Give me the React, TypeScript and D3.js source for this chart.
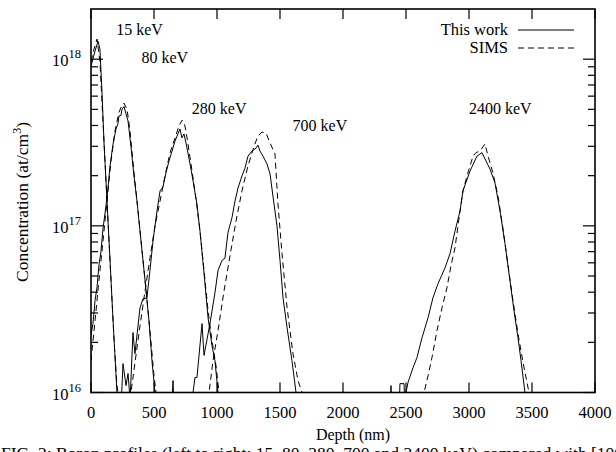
import * as d3 from "d3";
import React from "react";

const W = 616;
const H = 452;
const margin = { top: 9, right: 21, bottom: 59.5, left: 91 };

// [depth (nm), concentration (at/cm3)]
const sim15 = [
  [0, 9.1e17], [32, 1.12e18], [56, 1.28e18], [71, 1.15e18], [87, 6.4e17], [103, 3.2e17],
  [127, 1.41e17], [151, 6.2e16], [175, 2.7e16], [206, 1.0e16], [225, 5e15],
];
const sims15 = [
  [0, 9.7e17], [24, 1.15e18], [48, 1.32e18], [71, 9.7e17], [87, 5.6e17], [111, 2.45e17],
  [135, 1.07e17], [159, 4.7e16], [183, 2.05e16], [206, 1.1e16], [214, 1.0e16], [230, 5e15],
];
const sim80 = [
  [0, 2.2e16], [16, 2.6e16], [32, 3.56e16], [48, 4.3e16], [63, 5.8e16], [79, 7.0e16],
  [95, 9.6e16], [119, 1.32e17], [135, 1.7e17], [151, 2.29e17], [175, 3.1e17], [198, 3.8e17],
  [214, 4.1e17], [222, 4.56e17], [238, 4.6e17], [246, 5.0e17], [262, 5.2e17], [278, 4.7e17],
  [294, 4.25e17], [317, 3.0e17], [341, 1.99e17], [365, 1.41e17], [397, 8.1e16], [429, 4.7e16],
  [460, 2.7e16], [484, 1.55e16], [508, 1.0e16], [525, 5e15],
];
const sims80 = [
  [0, 1.55e16], [32, 2.7e16], [63, 4.7e16], [95, 8.1e16], [127, 1.41e17], [159, 2.45e17],
  [190, 3.7e17], [222, 4.8e17], [246, 5.3e17], [262, 5.45e17], [286, 5.0e17], [310, 3.7e17],
  [341, 2.1e17], [373, 1.23e17], [405, 7.1e16], [437, 4.1e16], [468, 2.35e16], [500, 1.26e16],
  [516, 1.0e16], [530, 5e15],
];
const sim280 = [
  [238, 8e15], [254, 1.49e16], [278, 1.1e16], [294, 1.3e16], [310, 9e15], [333, 2.29e16],
  [349, 1.71e16], [389, 3.23e16], [413, 3.65e16], [444, 3.7e16], [468, 5.4e16], [492, 8.1e16],
  [524, 1.23e17], [548, 1.62e17], [571, 1.71e17], [595, 2.08e17], [619, 2.45e17], [643, 2.81e17],
  [667, 3.23e17], [690, 3.56e17], [706, 3.81e17], [722, 3.37e17], [738, 3.56e17], [762, 2.93e17],
  [786, 2.35e17], [810, 1.86e17], [841, 1.35e17], [865, 9.3e16], [897, 5.2e16], [929, 2.81e16],
  [960, 1.91e16], [984, 1.55e16], [1008, 1.0e16], [1032, 6e15],
];
const sims280 = [
  [286, 6e15], [317, 1.0e16], [349, 1.51e16], [389, 2.52e16], [429, 4.08e16], [468, 6.4e16],
  [508, 1.0e17], [548, 1.41e17], [587, 1.99e17], [627, 2.74e17], [667, 3.37e17], [698, 3.97e17],
  [722, 4.3e17], [738, 4.2e17], [754, 3.7e17], [778, 2.81e17], [802, 2.13e17], [833, 1.45e17],
  [865, 9.3e16], [897, 5.4e16], [929, 3.1e16], [960, 2.05e16], [992, 1.45e16], [1016, 1.0e16],
  [1040, 6e15],
];
const sim700 = [
  [627, 5e15], [651, 1.18e16], [667, 5e15], [802, 9e15], [825, 1.23e16], [841, 1.23e16],
  [881, 2.59e16], [897, 1.67e16], [944, 2.59e16], [984, 3.97e16], [1008, 5.4e16], [1040, 6.2e16],
  [1063, 6.4e16], [1087, 9.1e16], [1119, 1.12e17], [1143, 1.41e17], [1167, 1.69e17], [1198, 1.99e17],
  [1222, 2.22e17], [1246, 2.62e17], [1278, 2.81e17], [1310, 2.93e17], [1325, 3.05e17], [1341, 2.81e17],
  [1365, 2.62e17], [1397, 2.35e17], [1421, 2.05e17], [1444, 1.51e17], [1476, 1.0e17], [1500, 6.2e16],
  [1524, 3.7e16], [1556, 2.45e16], [1595, 1.55e16], [1627, 1.0e16], [1659, 5e15],
];
const sims700 = [
  [905, 6e15], [937, 1.0e16], [968, 1.55e16], [1008, 2.35e16], [1056, 4.08e16], [1103, 6.6e16],
  [1151, 1.07e17], [1198, 1.62e17], [1246, 2.29e17], [1294, 3.0e17], [1325, 3.46e17], [1357, 3.65e17],
  [1389, 3.6e17], [1421, 3.14e17], [1460, 2.7e17], [1484, 1.35e17], [1516, 6.8e16], [1556, 3.23e16],
  [1603, 1.71e16], [1643, 1.18e16], [1675, 1.0e16], [1700, 6e15],
];
const sim2400 = [
  [2373, 6e15], [2381, 1.1e16], [2389, 6e15], [2444, 7e15], [2452, 1.13e16], [2484, 1.13e16],
  [2490, 9e15], [2500, 1.0e16], [2516, 1.15e16], [2556, 1.41e16], [2587, 1.62e16], [2627, 2.13e16],
  [2675, 2.81e16], [2714, 3.7e16], [2754, 4.5e16], [2810, 5.6e16], [2849, 6.8e16], [2889, 9.3e16],
  [2929, 1.23e17], [2952, 1.62e17], [3008, 2.13e17], [3063, 2.62e17], [3103, 2.75e17], [3135, 2.45e17],
  [3167, 2.19e17], [3206, 1.81e17], [3246, 1.23e17], [3286, 7.8e16], [3325, 4.7e16], [3357, 3.1e16],
  [3389, 2.13e16], [3413, 1.55e16], [3444, 1.0e16], [3468, 6e15],
];
const sims2400 = [
  [2611, 6e15], [2643, 1.0e16], [2675, 1.26e16], [2706, 1.62e16], [2746, 2.35e16], [2786, 3.23e16],
  [2825, 4.25e16], [2857, 5.76e16], [2889, 7.4e16], [2929, 1.23e17], [2952, 1.62e17], [2984, 1.99e17],
  [3008, 2.29e17], [3032, 2.62e17], [3056, 2.75e17], [3087, 2.81e17], [3127, 3.1e17], [3151, 2.62e17],
  [3190, 2.08e17], [3230, 1.51e17], [3270, 9.6e16], [3310, 5.76e16], [3349, 3.56e16], [3389, 2.25e16],
  [3429, 1.51e16], [3476, 1.0e16], [3500, 6e15],
];

const simSeries = [sim15, sim80, sim280, sim700, sim2400];
const simsSeries = [sims15, sims80, sims280, sims700, sims2400];

const energies = ["15 keV", "80 keV", "280 keV", "700 keV", "2400 keV"];
// label anchors in data coordinates (like gnuplot "set label at")
const labelDepth = [200, 400, 800, 1600, 3000];
const labelConc = [1.4e18, 9.5e17, 4.7e17, 3.7e17, 4.7e17];

const xTicks = [0, 500, 1000, 1500, 2000, 2500, 3000, 3500, 4000];
const yDecades = [16, 17, 18];

const serif = "'Liberation Serif', 'Times New Roman', serif";

export default function App() {
  const x = d3.scaleLinear().domain([0, 4000]).range([margin.left, W - margin.right]);
  const y = d3.scaleLog().domain([1e16, 2e18]).range([H - margin.bottom, margin.top]);
  const x0 = margin.left;
  const x1 = W - margin.right;
  const y0 = H - margin.bottom;
  const y1 = margin.top;

  const line = d3
    .line<number[]>()
    .x((d) => x(d[0]))
    .y((d) => y(d[1]));

  // minor ticks 2..9 in every decade
  const minor: number[] = [];
  for (const e of [16, 17]) {
    for (let k = 2; k <= 9; k++) minor.push(k * Math.pow(10, e));
  }

  return (
    <svg width={W} height={H} style={{ position: "absolute", left: 0, top: 0, background: "#fff" }}>
      <defs>
        <clipPath id="plot">
          <rect x={x0} y={y1} width={x1 - x0} height={y0 - y1} />
        </clipPath>
      </defs>

      <g clipPath="url(#plot)" fill="none" stroke="#000">
        {simSeries.map((s, i) => (
          <path key={"s" + i} d={line(s) || ""} strokeWidth={1} />
        ))}
        {simsSeries.map((s, i) => (
          <path key={"m" + i} d={line(s) || ""} strokeWidth={1} strokeDasharray="6,4" />
        ))}
      </g>

      {/* ticks */}
      <g stroke="#000" strokeWidth={1.2}>
        {xTicks.map((t) => (
          <g key={t}>
            <line x1={x(t)} x2={x(t)} y1={y0} y2={y0 - 10} />
            <line x1={x(t)} x2={x(t)} y1={y1} y2={y1 + 10} />
          </g>
        ))}
        {yDecades.map((e) => (
          <g key={e}>
            <line x1={x0} x2={x0 + 12} y1={y(Math.pow(10, e))} y2={y(Math.pow(10, e))} />
            <line x1={x1} x2={x1 - 12} y1={y(Math.pow(10, e))} y2={y(Math.pow(10, e))} />
          </g>
        ))}
        {minor.map((m) => (
          <g key={m}>
            <line x1={x0} x2={x0 + 7} y1={y(m)} y2={y(m)} />
            <line x1={x1} x2={x1 - 7} y1={y(m)} y2={y(m)} />
          </g>
        ))}
      </g>

      <rect x={x0} y={y1} width={x1 - x0} height={y0 - y1} fill="none" stroke="#000" strokeWidth={1.6} />

      <g fontFamily={serif} fill="#000">
        {xTicks.map((t) => (
          <text key={t} x={x(t)} y={y0 + 25} textAnchor="middle" fontSize={16.5}>
            {t}
          </text>
        ))}
        {yDecades.map((e) => (
          <text key={e} x={x0 - 10} y={y(Math.pow(10, e)) + 7} textAnchor="end" fontSize={16.5}>
            10
            <tspan dy={-8} fontSize={12.5}>
              {e}
            </tspan>
          </text>
        ))}

        {energies.map((t, i) => (
          <text key={t} x={x(labelDepth[i])} y={y(labelConc[i])} fontSize={16}>
            {t}
          </text>
        ))}

        <text x={353} y={440} textAnchor="middle" fontSize={16}>
          Depth (nm)
        </text>
        <text transform="translate(28,202) rotate(-90)" textAnchor="middle" fontSize={17.5}>
          Concentration (at/cm
          <tspan dy={-7} fontSize={12}>
            3
          </tspan>
          <tspan dy={7}>)</tspan>
        </text>

        {/* legend */}
        <text x={508} y={35} textAnchor="end" fontSize={16.5}>
          This work
        </text>
        <text x={508} y={53} textAnchor="end" fontSize={16.5}>
          SIMS
        </text>

        <text x={1} y={459} fontSize={17.5}>
          FIG. 2: Boron profiles (left to right: 15, 80, 280, 700 and 2400 keV) compared with [100] SIMS data (
        </text>
      </g>
      <line x1={518} x2={574} y1={30} y2={30} stroke="#000" strokeWidth={1.1} />
      <line x1={518} x2={574} y1={48} y2={48} stroke="#000" strokeWidth={1.1} strokeDasharray="6,4" />
    </svg>
  );
}
